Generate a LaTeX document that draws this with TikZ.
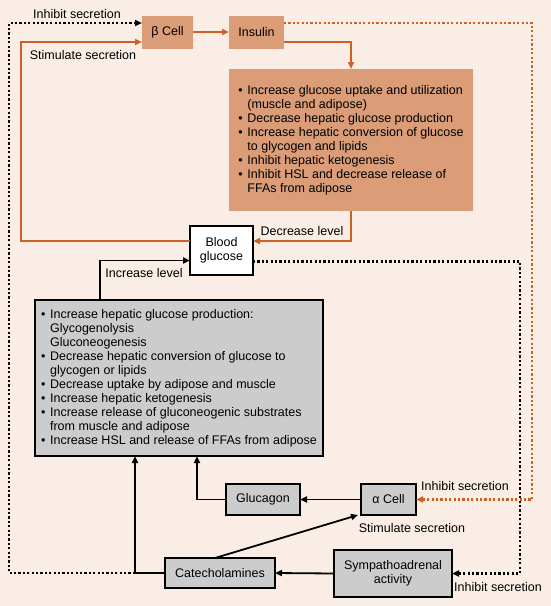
\documentclass[tikz,border=0pt]{standalone}
\usepackage{fontspec}
\setmainfont{Liberation Sans}
\usetikzlibrary{arrows.meta,calc}
\definecolor{bg}{RGB}{249,237,230}
\definecolor{ofill}{RGB}{219,156,120}
\definecolor{oline}{RGB}{205,96,36}
\definecolor{gfill}{RGB}{204,204,204}
\newcommand{\bu}{\makebox[9pt][l]{•}}
\newcommand{\ind}{\hspace*{9pt}}
\begin{document}
\begin{tikzpicture}[x=1pt,y=-1pt,
  every node/.style={font=\fontsize{12.5}{14}\selectfont, inner sep=0pt, outer sep=0pt},
  obox/.style={rectangle, fill=ofill},
  gbox/.style={rectangle, fill=gfill, draw=black, line width=1.1pt},
  wbox/.style={rectangle, fill=white, draw=black, line width=1.2pt},
  tip/.style={-{Triangle[length=7pt,width=6pt]}},
  oarr/.style={draw=oline, line width=1.8pt, tip},
  barr/.style={draw=black, line width=1.8pt, tip},
  dotl/.style={line width=2.3pt, dash pattern=on 2.2pt off 2.2pt},
  lbl/.style={text=black}]
\fill[bg] (0,0) rectangle (551,606);
\useasboundingbox (0,0) rectangle (551,606);

% nodes
\node[obox, minimum width=51pt, minimum height=33pt] (beta) at (167.5,32) {β Cell};
\node[obox, minimum width=55pt, minimum height=33pt] (insulin) at (256.5,32) {Insulin};
\node[obox, minimum width=244pt, minimum height=142pt, align=left] (effects) at (351,140)
 {\bu Increase glucose uptake and utilization\\
  \ind(muscle and adipose)\\
  \bu Decrease hepatic glucose production\\
  \bu Increase hepatic conversion of glucose\\
  \ind to glycogen and lipids\\
  \bu Inhibit hepatic ketogenesis\\
  \bu Inhibit HSL and decrease release of\\
  \ind FFAs from adipose};
\node[wbox, minimum width=63pt, minimum height=49pt, align=center] (blood) at (221.5,250.5) {Blood\\glucose};
\node[gbox, minimum width=288pt, minimum height=156pt, align=left] (gray) at (179,378)
 {\bu Increase hepatic glucose production:\\
  \ind Glycogenolysis\\
  \ind Gluconeogenesis\\
  \bu Decrease hepatic conversion of glucose to\\
  \ind glycogen or lipids\\
  \bu Decrease uptake by adipose and muscle\\
  \bu Increase hepatic ketogenesis\\
  \bu Increase release of gluconeogenic substrates\\
  \ind from muscle and adipose\\
  \bu Increase HSL and release of FFAs from adipose};
\node[gbox, minimum width=74pt, minimum height=31pt] (glucagon) at (263,499.5) {Glucagon};
\node[gbox, minimum width=55pt, minimum height=31pt] (alpha) at (388.5,499.5) {α Cell};
\node[gbox, minimum width=110pt, minimum height=30pt] (catech) at (220,573) {Catecholamines};
\node[gbox, minimum width=118pt, minimum height=47pt, align=center] (symp) at (393,573.5) {Sympathoadrenal\\activity};

% labels
\node[lbl] (l1) at (77,14) {Inhibit secretion};
\node[lbl] (l2) at (83,55) {Stimulate secretion};
\node[lbl] (l3) at (302,231) {Decrease level};
\node[lbl] (l4) at (144,273) {Increase level};
\node[lbl] (l5) at (465,486) {Inhibit secretion};
\node[lbl] (l6) at (412,528) {Stimulate secretion};
\node[lbl] (l7) at (498,587) {Inhibit secretion};

% coordinates
\coordinate (j) at (135,573);

% orange connectors
\draw[oarr] (beta) -- (insulin);
\draw[oarr] (insulin.east |- 0,42) -| (effects.north);
\draw[oarr, dotl] (insulin.east |- 0,23) -- (532,23) -- (532,499.5) -- (alpha.east);
\draw[oarr] (effects.south) -- (351,241) -- (blood.east |- 0,241);
\draw[oarr] (blood.west |- 0,241) -- (21,241) -- (21,42) -- (beta.west |- 0,42);

% black connectors
\draw[barr, dotl] (j) -- (9,573) -- (9,23) -- (beta.west |- 0,23);
\draw[barr] (catech.west) -- (j) -- (gray.south -| j);
\draw[barr] (glucagon.west) -| (gray.south -| 197,0);
\draw[barr] (alpha.west) -- (glucagon.east);
\draw[barr] ($(catech.north)+(-5,0)$) -- ($(alpha.south west)+(-3,0)$);
\draw[barr] (symp.west) -- (catech.east);
\draw[barr, dotl] (blood.east |- 0,261.5) -- (520,261.5) -- (520,573.5) -- (symp.east);
\draw[barr] (gray.north -| 100,0) -- (100,260.5) -- (blood.west |- 0,260.5);
\end{tikzpicture}
\end{document}
